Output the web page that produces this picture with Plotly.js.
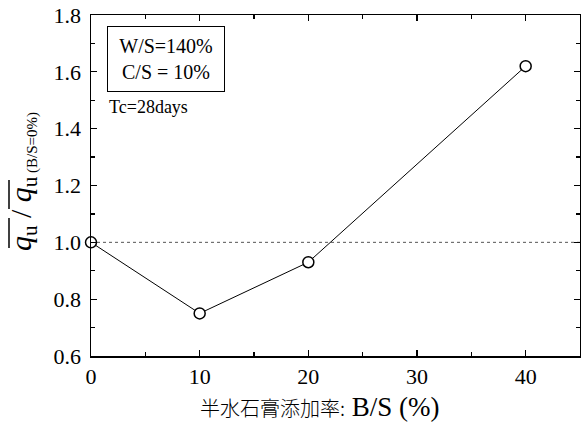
<!DOCTYPE html>
<html><head><meta charset="utf-8">
<script src="https://cdn.plot.ly/plotly-3.0.1.min.js"></script>
<style>body{margin:0;background:#fff}</style>
</head><body>
<div id="chart" style="width:581px;height:428px"></div>
<script>
var bsPercent = [0, 10, 20, 40];
var qRatio = [1.0, 0.75, 0.93, 1.62];
var xTicks = [0, 10, 20, 30, 40];
var yTicks = [0.6, 0.8, 1.0, 1.2, 1.4, 1.6, 1.8];
var refLevel = 1.0;

var serif = 'Liberation Serif, Times New Roman, serif';
var W = 581, H = 428, L = 91, R = 1, T = 15, B = 72;
var pw = W - L - R, ph = H - T - B;
function px(x){ return (x - L) / pw; }
function py(y){ return (H - B - y) / ph; }

var trace = {
  x: bsPercent, y: qRatio, mode: 'lines+markers', type: 'scatter',
  line: {color: '#000', width: 1},
  marker: {symbol: 'circle', size: 11, color: '#fff', line: {color: '#000', width: 1.5}},
  cliponaxis: false, showlegend: false
};
var axisCommon = {
  showgrid: false, zeroline: false, showline: true, linecolor: '#000', linewidth: 1.5,
  mirror: 'ticks', ticks: 'inside', ticklen: 6, tickwidth: 1.2, tickcolor: '#000',
  tickfont: {family: serif, size: 22, color: '#000'}
};
var layout = {
  width: W, height: H,
  margin: {l: L, r: R, t: T, b: B},
  paper_bgcolor: '#fff', plot_bgcolor: '#fff',
  xaxis: Object.assign({}, axisCommon, {
    range: [0, 45], tickvals: xTicks, ticktext: xTicks.map(String),
    minor: {dtick: 5, tick0: 0, ticks: 'inside', ticklen: 4, tickwidth: 1.2, tickcolor: '#000'}
  }),
  yaxis: Object.assign({}, axisCommon, {
    range: [0.6, 1.8], tickvals: yTicks, ticktext: yTicks.map(function(v){return v.toFixed(1);}),
    ticklabelstandoff: 4,
    minor: {dtick: 0.1, tick0: 0.6, ticks: 'inside', ticklen: 4, tickwidth: 1.2, tickcolor: '#000'}
  }),
  shapes: [
    {type: 'line', xref: 'paper', x0: 0, x1: 1, yref: 'y', y0: refLevel, y1: refLevel,
     line: {color: '#555', width: 1, dash: 'dot'}, layer: 'below'},
    {type: 'line', xref: 'paper', yref: 'paper', x0: px(9), x1: px(9), y0: py(218), y1: py(248),
     line: {color: '#000', width: 1.5}},
    {type: 'line', xref: 'paper', yref: 'paper', x0: px(9), x1: px(9), y0: py(180), y1: py(209),
     line: {color: '#000', width: 1.5}}
  ],
  annotations: [
    {xref: 'paper', yref: 'paper', x: px(107), y: py(26), xanchor: 'left', yanchor: 'top',
     text: 'W/S=140%<br>C/S = 10%', align: 'center', showarrow: false,
     width: 104, height: 52,
     font: {family: serif, size: 20, color: '#000'},
     bordercolor: '#000', borderwidth: 1, borderpad: 6, bgcolor: '#fff'},
    {xref: 'paper', yref: 'paper', x: px(107), y: py(107), xanchor: 'left', yanchor: 'middle',
     text: 'Tc=28days', showarrow: false, font: {family: serif, size: 18, color: '#000'}},
    {xref: 'paper', yref: 'paper', x: px(23), y: py(182), xanchor: 'center', yanchor: 'middle',
     textangle: -90, showarrow: false,
     text: '<i>q</i><sub>u</sub> / <i>q</i><sub>u<span style="font-size:15px"> (B/S=0%)</span></sub>',
     font: {family: serif, size: 30, color: '#000'}},
    {xref: 'paper', yref: 'paper', x: px(442), y: py(407), xanchor: 'right', yanchor: 'middle',
     showarrow: false,
     text: '<span style="font-family:Noto Sans CJK JP;font-size:20px;font-weight:300">半水石膏添加率:</span> B/S (%)',
     font: {family: serif, size: 27, color: '#000'}}
  ]
};
Plotly.newPlot('chart', [trace], layout, {displayModeBar: false, staticPlot: true});
</script>
</body></html>
